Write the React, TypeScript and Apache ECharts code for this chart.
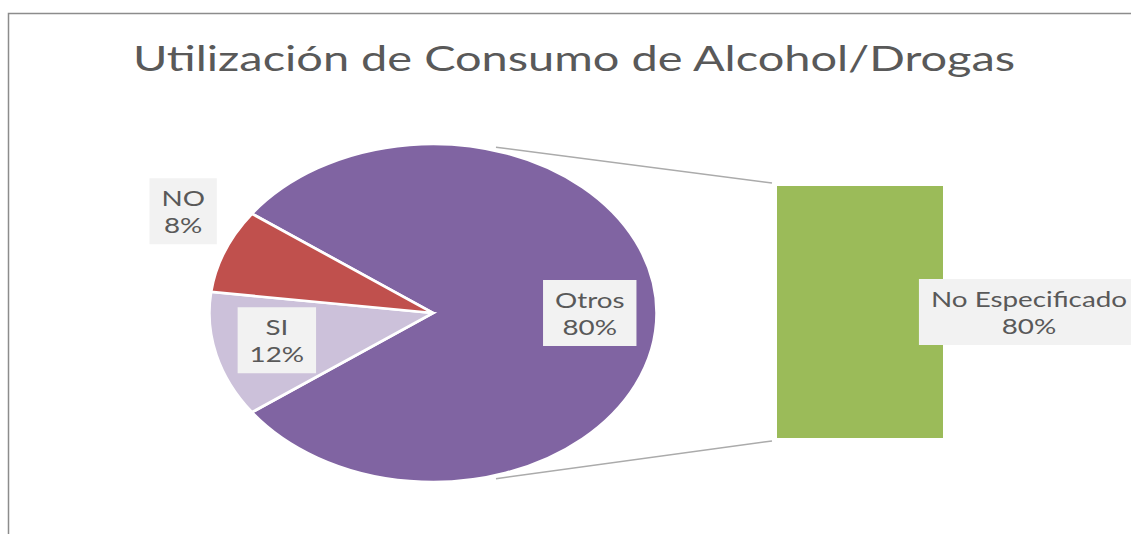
import React, { useEffect, useRef } from "react";
import * as echarts from "echarts";

const titleText = "Utilización de Consumo de Alcohol/Drogas";
const pieCategories = ["Otros", "SI", "NO"];
const pieValues = [80, 12, 8];
const pieColors = ["#8064A2", "#CCC1DA", "#C0504D"];
const barCategories = ["No Especificado"];
const barValues = [80];
const barColor = "#9BBB59";

// layout / style constants
const STRETCH = 1.325;
const TITLE_STRETCH = 1.38;
const FONT = "Lato, 'Open Sans', sans-serif";
const TEXT_COLOR = "#595959";
const PIE = { cx: 433, cy: 313, ry: 169 };
const labelPlacement = [
  { radius: 0.7, dy: 0 },
  { radius: 0.72, dy: -3 },
  { radius: 1.2, dy: -27 },
];
const CONNECTOR_ANGLE = (74 * Math.PI) / 180;

const labelStyle = (text: string) => ({
  text,
  fill: TEXT_COLOR,
  fontSize: 21,
  fontFamily: FONT,
  align: "center",
  verticalAlign: "middle",
  lineHeight: 27,
  backgroundColor: "#F2F2F2",
  padding: [6, 9],
});

export default function App() {
  const ref = useRef<HTMLDivElement>(null);
  useEffect(() => {
    if (!ref.current) return;
    const chart = echarts.init(ref.current, undefined, { renderer: "svg" });
    const total = pieValues.reduce((a, b) => a + b, 0);
    const startAngle = -(pieValues[0] / total) * Math.PI;
    const cumStart: number[] = [];
    let acc = startAngle;
    pieValues.forEach((v) => {
      cumStart.push(acc);
      acc += (v / total) * Math.PI * 2;
    });
    const rx = PIE.ry * STRETCH;

    const option: any = {
      animation: false,
      backgroundColor: "#ffffff",
      graphic: [
        {
          type: "rect",
          shape: { x: 8.5, y: 13.5, width: 1300, height: 700 },
          style: { fill: "none", stroke: "#8C8C8C", lineWidth: 1.5 },
          silent: true,
        },
        {
          type: "text",
          x: 574,
          y: 58,
          scaleX: TITLE_STRETCH,
          style: {
            text: titleText,
            fontSize: 34,
            fontFamily: FONT,
            fill: TEXT_COLOR,
            align: "center",
            verticalAlign: "middle",
          },
        },
      ],
      grid: { left: 777, top: 186, width: 166, height: 252 },
      xAxis: { type: "category", data: barCategories, show: false },
      yAxis: { type: "value", min: 0, max: 80, show: false },
      series: [
        {
          type: "custom",
          coordinateSystem: "none",
          data: pieValues.map((v, i) => ({ name: pieCategories[i], value: v })),
          renderItem: (params: any, api: any) => {
            const i = params.dataIndex;
            const v = api.value(0);
            const s = cumStart[i];
            const e = s + (v / total) * Math.PI * 2;
            const mid = (s + e) / 2;
            const pl = labelPlacement[i];
            const lx = PIE.cx + Math.cos(mid) * rx * pl.radius;
            const ly = PIE.cy + Math.sin(mid) * PIE.ry * pl.radius + pl.dy;
            return {
              type: "group",
              children: [
                {
                  type: "group",
                  x: PIE.cx,
                  y: PIE.cy,
                  scaleX: STRETCH,
                  children: [
                    {
                      type: "sector",
                      shape: { cx: 0, cy: 0, r0: 0, r: PIE.ry, startAngle: s, endAngle: e, clockwise: true },
                      style: { fill: pieColors[i], stroke: "#ffffff", lineWidth: 2.5, strokeNoScale: true },
                    },
                  ],
                },
                {
                  type: "text",
                  x: lx,
                  y: ly,
                  scaleX: STRETCH,
                  z2: 10,
                  style: labelStyle(pieCategories[i] + "\n" + Math.round((v / total) * 100) + "%"),
                },
              ],
            };
          },
        },
        {
          type: "custom",
          coordinateSystem: "cartesian2d",
          encode: { x: 0, y: 1 },
          data: barValues.map((v, i) => [i, v]),
          renderItem: (params: any, api: any) => {
            const i = params.dataIndex;
            const base = api.coord([api.value(0), 0]);
            const top = api.coord([api.value(0), api.value(1)]);
            const w = api.size([1, 0])[0];
            const left = base[0] - w / 2;
            const right = base[0] + w / 2;
            const p1 = [PIE.cx + Math.cos(-CONNECTOR_ANGLE) * rx * 1.02, PIE.cy + Math.sin(-CONNECTOR_ANGLE) * PIE.ry * 1.02];
            const p2 = [PIE.cx + Math.cos(CONNECTOR_ANGLE) * rx * 1.02, PIE.cy + Math.sin(CONNECTOR_ANGLE) * PIE.ry * 1.02];
            return {
              type: "group",
              children: [
                {
                  type: "line",
                  shape: { x1: p1[0], y1: p1[1], x2: left - 5, y2: top[1] - 3 },
                  style: { stroke: "#ABABAB", lineWidth: 1.5 },
                },
                {
                  type: "line",
                  shape: { x1: p2[0], y1: p2[1], x2: left - 5, y2: base[1] + 3 },
                  style: { stroke: "#ABABAB", lineWidth: 1.5 },
                },
                {
                  type: "rect",
                  shape: { x: left, y: top[1], width: w, height: base[1] - top[1] },
                  style: { fill: barColor },
                },
                {
                  type: "text",
                  x: right + 86,
                  y: (top[1] + base[1]) / 2,
                  scaleX: STRETCH,
                  z2: 10,
                  style: labelStyle(barCategories[i] + "\n" + Math.round((api.value(1) / total) * 100) + "%"),
                },
              ],
            };
          },
        },
      ],
    };
    chart.setOption(option);
    return () => chart.dispose();
  }, []);
  return (
    <div
      ref={ref}
      style={{ position: "fixed", left: 0, top: 0, width: 1131, height: 534 }}
    />
  );
}
